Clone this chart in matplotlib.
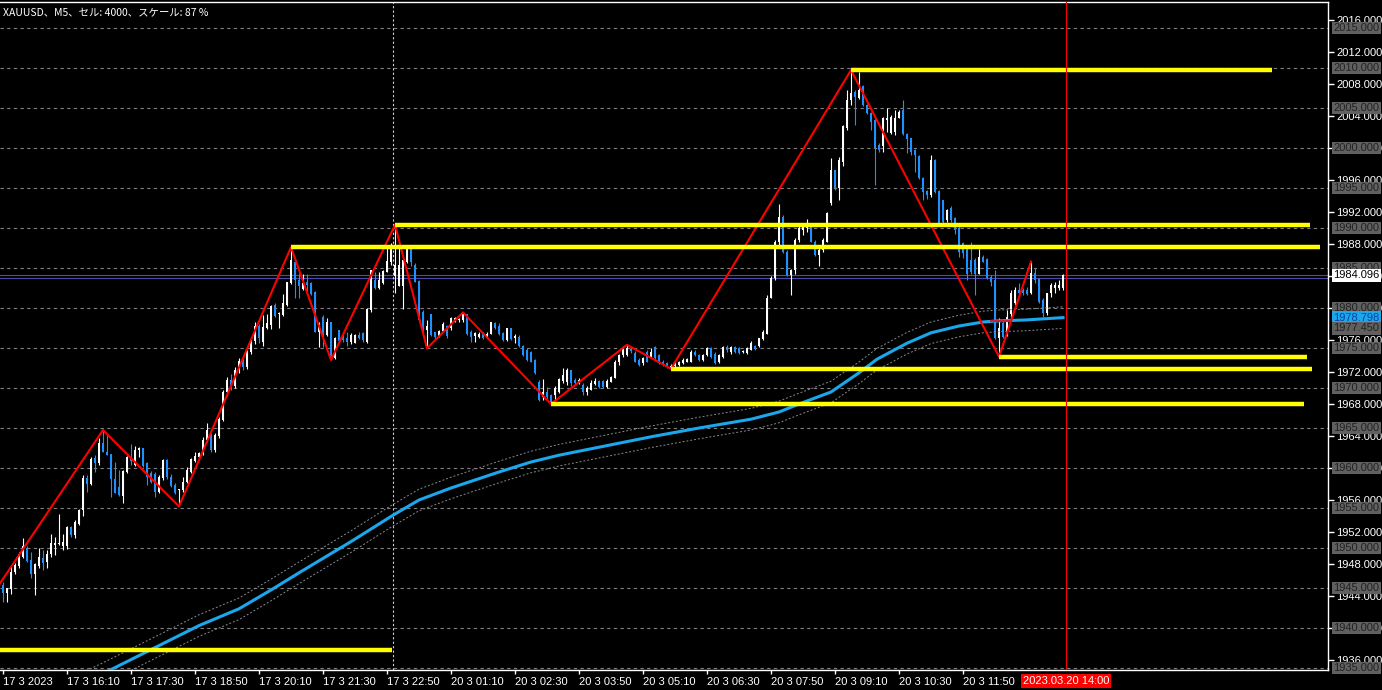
"""
plot.py  –  XAUUSD M5 chart (MT4 style)
"""
import numpy as np
import matplotlib
matplotlib.use("Agg")
import matplotlib.pyplot as plt
import matplotlib.transforms as mtransforms

plt.rcParams["font.family"] = ["Liberation Sans", "DejaVu Sans"]

# ── candles (bar index 0 = 17 3 2023 14:50, 5 min bars) ─────────────────────
opens = [
    1945.4, 1944.4, 1944.85, 1947.05, 1947.75, 1948.9, 1950.0, 1948.5, 1946.8, 1947.75,
    1948.7, 1948.3, 1949.25, 1950.4, 1950.5, 1950.2, 1950.25, 1952.65, 1951.6, 1953.0,
    1954.75, 1958.8, 1958.0, 1961.3, 1960.6, 1963.15, 1962.05, 1961.8, 1958.6, 1957.6,
    1956.55, 1959.55, 1961.4, 1960.4, 1962.25, 1962.45, 1960.65, 1959.35, 1959.25, 1957.05,
    1958.7, 1961.0, 1958.9, 1957.9, 1957.2, 1957.2, 1958.3, 1959.55, 1960.9, 1961.4,
    1961.85, 1963.5, 1964.1, 1962.25, 1964.0, 1966.0, 1969.5, 1971.0, 1970.2, 1972.3,
    1973.4, 1972.6, 1974.5, 1975.9, 1977.8, 1975.8, 1977.45, 1977.9, 1980.4, 1979.2,
    1979.1, 1980.4, 1983.1, 1985.8, 1983.5, 1982.4, 1983.3, 1983.1, 1982.0, 1977.0,
    1978.9, 1976.6, 1978.2, 1973.7, 1977.25, 1976.6, 1976.3, 1975.7, 1975.6, 1976.6,
    1976.9, 1975.8, 1979.75, 1983.5, 1982.5, 1983.1, 1984.5, 1985.8, 1984.0, 1982.7,
    1982.8, 1985.8, 1987.5, 1985.4, 1983.4, 1979.5, 1977.2, 1979.2, 1977.0, 1976.5,
    1977.1, 1977.7, 1977.45, 1978.4, 1978.5, 1978.5, 1979.2, 1977.0, 1976.5, 1976.4,
    1977.0, 1976.3, 1976.8, 1978.1, 1977.8, 1976.9, 1976.0, 1977.45, 1976.3, 1976.4,
    1975.25, 1974.75, 1974.5, 1973.5, 1970.8, 1968.9, 1969.5, 1969.1, 1969.1, 1969.5,
    1970.9, 1970.7, 1972.2, 1971.0, 1970.8, 1970.4, 1969.55, 1969.75, 1970.5, 1970.9,
    1970.9, 1970.1, 1970.8, 1971.3, 1973.3, 1974.1, 1974.1, 1974.9, 1974.4, 1973.5,
    1973.1, 1974.5, 1973.9, 1975.15, 1974.1, 1973.3, 1973.1, 1972.4, 1972.7, 1972.9,
    1973.1, 1973.3, 1973.3, 1974.5, 1974.1, 1973.5, 1974.1, 1974.95, 1974.3, 1973.2,
    1973.9, 1975.15, 1974.5, 1975.15, 1974.95, 1974.5, 1974.4, 1974.75, 1975.25, 1975.25,
    1976.1, 1976.8, 1981.3, 1983.7, 1988.3, 1991.4, 1987.05, 1984.1, 1984.75, 1988.5,
    1989.75, 1989.95, 1990.2, 1988.3, 1986.6, 1987.25, 1988.3, 1993.1, 1997.2, 1995.0,
    1998.3, 2002.5, 2006.0, 2007.05, 2006.2, 2007.75, 2005.4, 2004.35, 2003.5, 2000.4,
    2000.2, 2003.5, 2001.9, 2002.05, 2003.8, 2004.7, 2001.75, 2001.2, 1999.75, 1999.0,
    1996.3, 1994.65, 1994.1, 1998.5, 1994.65, 1993.5, 1991.0, 1992.45, 1991.2, 1989.95,
    1988.1, 1987.45, 1986.0, 1986.0, 1984.3, 1986.4, 1986.1, 1983.9, 1983.5, 1976.2,
    1978.1, 1976.75, 1979.3, 1980.6, 1982.25, 1982.3, 1982.25, 1981.85, 1984.35, 1983.6,
    1981.0, 1979.35, 1981.85, 1982.5, 1982.5, 1982.5,
]
highs = [
    1945.7, 1945.0, 1947.75, 1948.1, 1949.55, 1951.2, 1950.3, 1949.5, 1948.1, 1950.0,
    1949.8, 1949.75, 1951.8, 1951.4, 1954.25, 1951.8, 1952.7, 1952.75, 1953.5, 1954.85,
    1959.1, 1959.1, 1961.4, 1961.6, 1963.7, 1964.75, 1964.1, 1961.8, 1960.8, 1959.75,
    1959.8, 1961.5, 1962.95, 1962.7, 1962.65, 1962.45, 1960.8, 1959.6, 1959.55, 1959.1,
    1961.1, 1961.1, 1959.2, 1958.1, 1957.35, 1958.85, 1960.15, 1961.3, 1962.05, 1962.05,
    1963.85, 1965.65, 1964.35, 1964.35, 1966.4, 1969.8, 1971.4, 1971.8, 1972.6, 1973.8,
    1974.0, 1974.8, 1976.4, 1978.3, 1978.0, 1979.1, 1979.3, 1980.4, 1980.6, 1979.5,
    1981.8, 1983.3, 1987.6, 1986.2, 1984.4, 1984.3, 1984.3, 1983.2, 1982.1, 1978.3,
    1979.1, 1978.7, 1978.3, 1976.4, 1977.3, 1976.8, 1977.0, 1976.9, 1976.7, 1977.0,
    1977.0, 1979.95, 1984.75, 1984.5, 1984.5, 1984.75, 1987.5, 1988.1, 1990.4, 1987.5,
    1986.2, 1987.7, 1987.7, 1985.6, 1983.5, 1979.75, 1978.5, 1979.25, 1977.0, 1977.2,
    1978.2, 1977.9, 1978.9, 1978.9, 1978.8, 1979.45, 1979.3, 1977.2, 1977.0, 1977.0,
    1977.0, 1977.0, 1978.3, 1978.3, 1978.1, 1977.0, 1977.5, 1977.5, 1976.8, 1976.6,
    1975.4, 1974.95, 1974.6, 1973.6, 1971.0, 1971.1, 1970.1, 1969.3, 1970.2, 1971.2,
    1972.45, 1972.45, 1972.25, 1971.2, 1971.3, 1970.6, 1970.2, 1971.0, 1971.2, 1971.0,
    1971.0, 1971.1, 1971.5, 1973.5, 1974.3, 1975.2, 1975.4, 1975.1, 1974.6, 1973.7,
    1973.9, 1974.75, 1974.95, 1975.2, 1974.2, 1973.5, 1973.2, 1973.0, 1973.2, 1973.4,
    1973.7, 1973.8, 1974.75, 1974.7, 1974.2, 1974.3, 1975.15, 1975.15, 1974.5, 1974.3,
    1975.25, 1975.4, 1975.25, 1975.3, 1975.1, 1974.7, 1975.1, 1975.9, 1975.4, 1976.3,
    1977.25, 1981.6, 1984.0, 1988.5, 1993.0, 1991.6, 1987.2, 1984.85, 1988.7, 1990.2,
    1990.6, 1991.1, 1990.4, 1988.5, 1987.9, 1988.7, 1992.05, 1998.7, 1997.25, 1998.9,
    2002.9, 2007.25, 2009.75, 2007.25, 2009.5, 2007.9, 2005.5, 2004.5, 2003.7, 2000.6,
    2003.9, 2005.0, 2004.1, 2004.8, 2004.75, 2006.0, 2001.85, 2001.3, 1999.85, 1999.1,
    1996.4, 1994.75, 1999.1, 1998.6, 1994.75, 1993.5, 1992.4, 1992.7, 1991.4, 1990.2,
    1988.3, 1987.7, 1988.3, 1986.2, 1987.35, 1986.6, 1986.2, 1984.1, 1984.7, 1978.7,
    1978.5, 1979.75, 1982.25, 1982.65, 1983.1, 1982.45, 1982.65, 1985.8, 1984.95, 1983.7,
    1981.2, 1981.85, 1983.1, 1983.3, 1983.5, 1984.3,
]
lows = [
    1943.2, 1943.3, 1944.3, 1946.8, 1947.45, 1948.7, 1948.2, 1946.2, 1944.1, 1947.45,
    1947.3, 1947.45, 1948.9, 1949.1, 1950.4, 1949.75, 1949.9, 1951.4, 1951.2, 1952.9,
    1954.05, 1957.05, 1957.9, 1959.5, 1960.4, 1962.0, 1961.6, 1956.4, 1956.85, 1956.5,
    1955.6, 1959.4, 1960.4, 1960.3, 1961.4, 1960.15, 1957.9, 1958.1, 1956.4, 1956.9,
    1958.5, 1958.6, 1957.6, 1956.75, 1955.2, 1957.05, 1958.1, 1959.4, 1960.8, 1961.1,
    1961.6, 1963.3, 1962.05, 1962.05, 1963.8, 1965.9, 1969.0, 1969.8, 1970.0, 1971.9,
    1972.2, 1972.4, 1974.3, 1975.5, 1975.6, 1975.3, 1977.4, 1977.4, 1978.9, 1977.45,
    1979.05, 1980.3, 1983.0, 1981.2, 1981.2, 1982.25, 1982.0, 1981.6, 1977.0, 1975.1,
    1975.1, 1976.5, 1973.5, 1973.6, 1975.8, 1975.8, 1975.2, 1975.5, 1975.6, 1976.1,
    1975.7, 1975.6, 1979.55, 1982.4, 1982.4, 1983.0, 1984.5, 1985.4, 1981.9, 1982.7,
    1979.9, 1985.6, 1985.2, 1983.2, 1978.4, 1976.9, 1974.95, 1976.5, 1976.1, 1976.4,
    1977.0, 1976.2, 1977.25, 1978.2, 1978.3, 1978.3, 1976.6, 1975.7, 1975.7, 1976.2,
    1976.1, 1976.2, 1976.8, 1977.4, 1976.6, 1975.9, 1975.9, 1976.0, 1975.6, 1975.1,
    1974.0, 1973.4, 1973.2, 1971.75, 1968.4, 1968.5, 1968.5, 1968.0, 1968.5, 1969.4,
    1970.6, 1970.4, 1970.25, 1970.4, 1970.5, 1969.1, 1969.1, 1969.7, 1970.4, 1970.0,
    1970.0, 1970.0, 1970.7, 1971.2, 1972.9, 1973.9, 1974.0, 1974.4, 1973.2, 1972.75,
    1972.9, 1973.2, 1973.7, 1973.5, 1973.0, 1972.8, 1972.5, 1972.35, 1972.6, 1972.8,
    1973.0, 1973.2, 1973.2, 1974.0, 1973.4, 1973.4, 1974.0, 1973.8, 1973.0, 1973.1,
    1973.8, 1974.5, 1974.3, 1974.4, 1974.3, 1974.4, 1974.3, 1974.7, 1974.8, 1975.1,
    1976.0, 1976.75, 1981.2, 1983.5, 1987.7, 1986.9, 1984.0, 1981.6, 1984.3, 1988.3,
    1989.1, 1989.5, 1988.2, 1986.5, 1985.2, 1987.05, 1988.2, 1992.9, 1994.75, 1993.5,
    1997.7, 2002.25, 2005.4, 2002.9, 2006.1, 2005.25, 2004.2, 2002.2, 1995.4, 1999.5,
    1999.5, 2002.0, 2001.8, 2001.6, 2003.7, 2001.6, 1999.4, 1999.1, 1997.05, 1996.1,
    1993.5, 1993.6, 1993.9, 1994.4, 1990.5, 1990.4, 1990.8, 1990.8, 1989.3, 1986.4,
    1986.2, 1983.5, 1984.3, 1981.6, 1984.25, 1985.7, 1983.6, 1982.7, 1976.1, 1973.9,
    1976.2, 1976.5, 1978.5, 1980.4, 1981.6, 1981.6, 1981.6, 1981.75, 1983.1, 1980.6,
    1978.9, 1979.1, 1981.4, 1981.85, 1982.25, 1982.25,
]
closes = [
    1944.4, 1944.95, 1947.05, 1947.9, 1949.25, 1950.2, 1948.4, 1946.8, 1947.95, 1948.85,
    1948.1, 1949.25, 1950.6, 1950.6, 1950.65, 1950.7, 1952.6, 1951.6, 1953.2, 1954.75,
    1958.8, 1957.95, 1961.1, 1960.6, 1963.15, 1962.05, 1961.6, 1958.6, 1956.85, 1956.6,
    1959.6, 1961.35, 1960.9, 1962.25, 1962.45, 1960.25, 1958.9, 1958.3, 1957.05, 1958.9,
    1961.0, 1958.85, 1957.75, 1956.9, 1957.25, 1958.3, 1959.75, 1961.1, 1961.5, 1961.85,
    1963.5, 1964.75, 1962.25, 1964.1, 1966.1, 1969.5, 1971.0, 1970.2, 1972.3, 1973.4,
    1972.6, 1974.5, 1975.9, 1977.8, 1976.2, 1977.65, 1978.1, 1980.3, 1979.05, 1979.3,
    1980.6, 1983.3, 1986.0, 1983.5, 1982.7, 1983.1, 1982.9, 1981.8, 1977.0, 1977.65,
    1976.6, 1978.2, 1973.7, 1976.2, 1975.9, 1976.0, 1975.7, 1976.6, 1976.6, 1976.2,
    1976.0, 1979.9, 1984.75, 1982.5, 1983.5, 1984.6, 1985.9, 1987.5, 1985.4, 1985.4,
    1986.0, 1987.5, 1985.8, 1983.3, 1978.5, 1977.0, 1977.7, 1976.6, 1976.4, 1977.1,
    1977.95, 1976.5, 1978.7, 1978.7, 1978.6, 1979.2, 1976.7, 1976.4, 1976.9, 1976.8,
    1976.2, 1976.8, 1978.2, 1977.45, 1976.7, 1976.0, 1977.45, 1976.1, 1976.5, 1975.2,
    1974.1, 1973.5, 1973.3, 1971.85, 1968.5, 1969.5, 1968.9, 1968.3, 1969.95, 1971.1,
    1971.6, 1972.25, 1970.6, 1970.65, 1971.0, 1969.55, 1969.95, 1970.6, 1970.9, 1970.1,
    1970.1, 1970.9, 1971.4, 1973.3, 1974.1, 1975.15, 1975.0, 1974.6, 1973.3, 1972.9,
    1973.7, 1973.3, 1974.5, 1973.7, 1973.1, 1972.9, 1972.7, 1972.8, 1973.1, 1973.3,
    1973.5, 1973.6, 1974.55, 1974.1, 1973.5, 1974.1, 1974.95, 1973.9, 1973.1, 1974.1,
    1975.15, 1974.75, 1975.15, 1974.5, 1974.4, 1974.6, 1975.0, 1975.65, 1974.85, 1976.2,
    1977.05, 1981.3, 1983.7, 1988.3, 1991.4, 1987.05, 1984.1, 1984.75, 1988.5, 1989.95,
    1990.2, 1990.25, 1988.3, 1986.6, 1987.25, 1988.5, 1991.9, 1997.2, 1995.0, 1998.5,
    2002.7, 2006.0, 2006.9, 2006.35, 2007.3, 2005.4, 2004.35, 2003.3, 2000.0, 1999.75,
    2003.7, 2003.8, 2003.9, 2003.7, 2004.5, 2001.75, 2001.1, 1999.55, 1999.1, 1996.2,
    1994.55, 1994.1, 1998.5, 1994.55, 1990.6, 1990.7, 1992.25, 1991.0, 1989.75, 1987.05,
    1986.85, 1984.3, 1984.55, 1984.3, 1986.4, 1985.8, 1983.7, 1983.3, 1976.2, 1977.45,
    1976.4, 1978.9, 1981.85, 1982.25, 1981.85, 1981.85, 1981.75, 1984.35, 1983.5, 1980.8,
    1979.35, 1981.85, 1982.9, 1982.9, 1982.9, 1984.1,
]

# ── moving average (read at some bars) ───────────────────────────────────────
ma_idx = [20, 27, 37, 49, 59, 67, 74, 87, 97.5, 104, 112, 124, 132, 139, 149,
          162, 174, 187, 194, 199, 207, 214, 218.5, 226, 232, 239, 245, 249, 255.5, 265]
ma_val = [1933.1, 1934.8, 1937.3, 1940.3, 1942.4, 1944.75, 1946.9, 1950.8, 1954.1,
          1956.0, 1957.5, 1959.5, 1960.75, 1961.6, 1962.6, 1963.9, 1965.0, 1966.1,
          1967.0, 1968.0, 1969.5, 1971.9, 1973.6, 1975.6, 1976.9, 1977.75, 1978.25,
          1978.4, 1978.5, 1978.798]
env_dev = 1.35

# ── zigzag ───────────────────────────────────────────────────────────────────
zz_idx = [-3, 25, 44, 72, 82, 98, 106, 115, 137, 156, 167, 212, 249, 257]
zz_val = [1943.9, 1964.75, 1955.2, 1987.6, 1973.5, 1990.4, 1974.95, 1979.45,
          1968.0, 1975.4, 1972.4, 2009.75, 1973.9, 1985.8]
zz_old_idx = [247, 251.5]
zz_old_val = [1978.4, 1978.4]

# ── yellow levels ────────────────────────────────────────────────────────────
lvl_price = [2009.75, 1990.4, 1987.6, 1973.9, 1972.35, 1968.0, 1937.25]
lvl_start = [212, 98, 72, 249, 167, 137, -1]
lvl_end   = [317.25, 326.75, 329.25, 326, 327.25, 325.25, 97.25]

# ── horizontal lines / labels ────────────────────────────────────────────────
hline_prices = [2015, 2010, 2005, 2000, 1995, 1990, 1985, 1980, 1975, 1970,
                1965, 1960, 1955, 1950, 1945, 1940, 1935]
bid, ask_line = 1984.096, 1983.72
env_low_label = 1977.450

tick_idx = list(range(0, 241, 16))
tick_lbl = ["17 3 2023", "17 3 16:10", "17 3 17:30", "17 3 18:50", "17 3 20:10",
            "17 3 21:30", "17 3 22:50", "20 3 01:10", "20 3 02:30", "20 3 03:50",
            "20 3 05:10", "20 3 06:30", "20 3 07:50", "20 3 09:10", "20 3 10:30",
            "20 3 11:50"]
sep_idx = 97.6
vline_idx = 265.75
vline_lbl = "2023.03.20 14:00"
title = "XAUUSD、M5、セル: 4000、スケール: 87 %"

BULL, BEAR = "#ffffff", "#1e90ff"

# ─────────────────────────────────────────────────────────────────────────────
fig = plt.figure(figsize=(13.82, 6.90), dpi=100, facecolor="black")
ax = fig.add_axes([0, 20 / 690, 1328 / 1382, 668 / 690])
ax.set_facecolor("black")
ax.set_xlim(-0.75, 331.25)
ax.set_ylim(1934.75, 2018.25)

for p in hline_prices:
    ax.axhline(p, color="#808080", lw=0.8, ls=(0, (3, 3)), zorder=1)
ax.axhline(bid, color="#4a4aa8", lw=0.8, zorder=1)
ax.axhline(ask_line, color="#4a4aa8", lw=0.8, zorder=1)
ax.axvline(sep_idx, color="#d0d0d0", lw=0.8, ls=(0, (2, 2)), zorder=1)

# candles
o = np.array(opens); h = np.array(highs); l = np.array(lows); c = np.array(closes)
idx = np.arange(len(o))
col = np.where(c >= o, BULL, BEAR)
ax.vlines(idx, l, h, colors=col, lw=0.8, zorder=2)
body = np.maximum(np.abs(c - o), 0.12)
ax.bar(idx, body, bottom=np.minimum(o, c), width=0.72, color=col, lw=0, zorder=2)

# MA + envelope
ma_v = np.array(ma_val)
ax.plot(ma_idx, ma_v + env_dev, color="#8a8a8a", lw=0.7, ls=(0, (2, 2)), zorder=3)
ax.plot(ma_idx, ma_v - env_dev, color="#8a8a8a", lw=0.7, ls=(0, (2, 2)), zorder=3)
ax.plot(ma_idx, ma_v, color="#1aa7ec", lw=2.2, zorder=4, solid_joinstyle="round")

# zigzag + levels
ax.plot(zz_idx, zz_val, color="#ff0000", lw=1.5, zorder=5)
ax.plot(zz_old_idx, zz_old_val, color="#c8203c", lw=1.5, zorder=5)
ax.hlines(lvl_price, lvl_start, lvl_end, colors="#ffff00", lw=3.2, zorder=6)
ax.axvline(vline_idx, color="#ff0000", lw=0.8, zorder=6)

# axes styling
ax.spines["left"].set_visible(False)
for s in ["top", "right", "bottom"]:
    ax.spines[s].set_color("white"); ax.spines[s].set_linewidth(1)
ax.yaxis.tick_right()
yt = np.arange(1936, 2017, 4)
ax.set_yticks(yt)
ax.set_yticklabels([f"{v:.3f}" for v in yt])
ax.tick_params(axis="y", colors="white", length=4, width=1, pad=2, labelsize=8)
ax.set_xticks(tick_idx)
ax.set_xticklabels(tick_lbl)
ax.tick_params(axis="x", colors="white", length=3, width=1, pad=2, labelsize=8)
for t in ax.get_xticklabels():
    t.set_ha("left")

tr = mtransforms.blended_transform_factory(ax.transAxes, ax.transData)
lx = 1.0042
for p in hline_prices:
    ax.text(lx, p, f"{p:.3f}", transform=tr, ha="left", va="center", fontsize=8,
            color="#222222", clip_on=False, zorder=10,
            bbox=dict(boxstyle="square,pad=0.12", fc="#606060", ec="none"))
ax.text(lx, ma_val[-1], f"{ma_val[-1]:.3f}", transform=tr, ha="left", va="center",
        fontsize=8, color="#1040a0", clip_on=False, zorder=11,
        bbox=dict(boxstyle="square,pad=0.12", fc="#1aa7ec", ec="none"))
ax.text(lx, env_low_label, f"{env_low_label:.3f}", transform=tr, ha="left", va="center",
        fontsize=8, color="#222222", clip_on=False, zorder=12,
        bbox=dict(boxstyle="square,pad=0.12", fc="#606060", ec="none"))
ax.text(lx, bid, f"{bid:.3f}", transform=tr, ha="left", va="center", fontsize=8,
        color="black", clip_on=False, zorder=12,
        bbox=dict(boxstyle="square,pad=0.12", fc="white", ec="none"))

trx = mtransforms.blended_transform_factory(ax.transData, ax.transAxes)
ax.text(vline_idx, -0.0165, vline_lbl, transform=trx, ha="center", va="center",
        fontsize=8, color="white", clip_on=False, zorder=12,
        bbox=dict(boxstyle="square,pad=0.15", fc="#ff0000", ec="none"))

fig.text(3 / 1382, 1 - 12 / 690, title, color="white", fontsize=7.5, va="center",
         family=["Noto Sans CJK JP", "DejaVu Sans"])

fig.savefig("out.png", dpi=100, facecolor="black")
